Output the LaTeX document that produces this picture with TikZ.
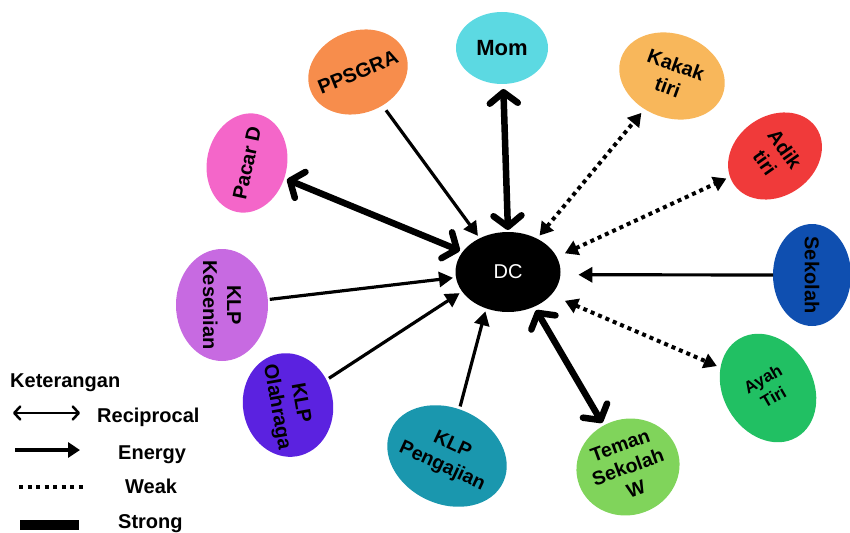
\documentclass[tikz,border=0pt]{standalone}
\usepackage{fontspec}
\setmainfont{Liberation Sans}
\usetikzlibrary{shapes.geometric,arrows.meta}
\definecolor{cMom}{HTML}{5CD9E2}
\definecolor{cPPS}{HTML}{F78D4C}
\definecolor{cKak}{HTML}{F8B75B}
\definecolor{cAdik}{HTML}{F03A3A}
\definecolor{cSek}{HTML}{0F4FB0}
\definecolor{cAyah}{HTML}{21C063}
\definecolor{cTeman}{HTML}{80D45B}
\definecolor{cPeng}{HTML}{1A97AE}
\definecolor{cOlah}{HTML}{5B22E0}
\definecolor{cSeni}{HTML}{C76AE1}
\definecolor{cPacar}{HTML}{F466C9}
\begin{document}
\begin{tikzpicture}[x=1pt,y=1pt,
  bub/.style={ellipse, inner sep=-12pt, outer sep=0pt, align=center, text=black,
    font=\bfseries\fontsize{20}{24}\selectfont},
  dcnode/.style={ellipse, fill=black, inner sep=0pt, outer sep=0pt,
    minimum width=105pt, minimum height=80pt, text=white, font=\fontsize{20}{22}\selectfont},
  thinarr/.style={line width=3.2pt, -{Triangle[length=14pt,width=15pt]}},
  strongarr/.style={line width=6.5pt, line cap=round,
    {Straight Barb[length=11pt,width=28pt,line width=6.5pt,round]}-{Straight Barb[length=11pt,width=28pt,line width=6.5pt,round]}},
  weakarr/.style={line width=4pt, dash pattern=on 4pt off 4pt,
    {Triangle[length=13pt,width=15pt]}-{Triangle[length=13pt,width=15pt]}},
  legtxt/.style={anchor=base west, inner sep=0pt, font=\bfseries\fontsize{20}{22}\selectfont}
]
\useasboundingbox (0,0) rectangle (850,-532);

% centre
\node[dcnode] (dc) at (508,-272) {DC};

% bubbles
\node[bub, fill=cMom, minimum width=92pt, minimum height=72pt, font=\bfseries\fontsize{22}{24}\selectfont] (mom) at (502,-48) {Mom};
\node[bub, fill=cPPS, rotate=22, minimum width=102pt, minimum height=82pt] (pps) at (358,-72) {PPSGRA};
\node[bub, fill=cKak, rotate=-20, minimum width=108pt, minimum height=84pt] (kak) at (672,-76) {Kakak\\tiri};
\node[bub, fill=cAdik, rotate=-55, minimum width=80pt, minimum height=100pt] (adik) at (775,-156) {Adik\\tiri};
\node[bub, fill=cSek, rotate=-90, minimum width=102pt, minimum height=78pt] (sek) at (812,-275) {Sekolah};
\node[bub, fill=cAyah, rotate=30, minimum width=90pt, minimum height=114pt, font=\bfseries\fontsize{17}{21}\selectfont] (ayah) at (768,-388) {Ayah\\Tiri};
\node[bub, fill=cTeman, rotate=20, minimum width=104pt, minimum height=96pt, font=\bfseries\fontsize{19.5}{23}\selectfont] (teman) at (628,-467) {Teman\\Sekolah\\W};
\node[bub, fill=cPeng, rotate=-25, minimum width=124pt, minimum height=96pt, font=\bfseries\fontsize{19.5}{24}\selectfont] (peng) at (447,-456) {KLP\\Pengajian};
\node[bub, fill=cOlah, rotate=-80, minimum width=104pt, minimum height=90pt] (olah) at (288,-405) {KLP\\Olahraga};
\node[bub, fill=cSeni, rotate=-90, minimum width=112pt, minimum height=92pt] (seni) at (222,-305) {KLP\\Kesenian};
\node[bub, fill=cPacar, rotate=78, minimum width=100pt, minimum height=80pt] (pacar) at (247,-163) {Pacar D};

% connectors
\draw[strongarr, shorten <=2pt, shorten >=5pt] (dc.90) -- (mom);
\draw[thinarr, shorten <=6pt, shorten >=3pt] (pps) -- (dc.130);
\draw[strongarr, shorten <=3pt, shorten >=3pt] (dc.156) -- (pacar);
\draw[weakarr, shorten <=4pt, shorten >=5pt] (dc.49) -- (kak);
\draw[weakarr, shorten <=9pt, shorten >=4pt] (dc.17) -- (adik);
\draw[thinarr, shorten <=0pt, shorten >=18pt] (sek) -- (dc.-3);
\draw[weakarr, shorten <=15pt, shorten >=4pt] (dc.-28) -- (ayah);
\draw[strongarr, shorten <=4pt, shorten >=3pt] (dc.-53) -- (teman);
\draw[thinarr, shorten <=3pt, shorten >=3pt] (peng) -- (dc.239);
\draw[thinarr, shorten <=3pt, shorten >=3pt] (olah) -- (dc.203);
\draw[thinarr, shorten <=2pt, shorten >=3pt] (seni) -- (dc.186);

% legend
\node[legtxt] (ket) at (10,-387) {Keterangan};
\coordinate (r1) at (13,-413); \coordinate (r2) at (80,-413);
\draw[line width=2.5pt, {Straight Barb[length=6pt,width=13pt,line width=2.5pt,round]}-{Straight Barb[length=6pt,width=13pt,line width=2.5pt,round]}] (r1) -- (r2);
\node[legtxt] (trec) at (97,-422) {Reciprocal};
\coordinate (e1) at (15,-450); \coordinate (e2) at (80,-450);
\draw[line width=3.3pt, -{Triangle[length=12pt,width=15pt]}] (e1) -- (e2);
\node[legtxt] (tene) at (118,-459) {Energy};
\coordinate (w1) at (19,-487); \coordinate (w2) at (83,-487);
\draw[line width=3.5pt, dash pattern=on 4pt off 4.5pt] (w1) -- (w2);
\node[legtxt] (tweak) at (125,-493) {Weak};
\coordinate (s1) at (20,-525); \coordinate (s2) at (79,-525);
\draw[line width=10pt] (s1) -- (s2);
\node[legtxt] (tstr) at (118,-528) {Strong};
\end{tikzpicture}
\end{document}
